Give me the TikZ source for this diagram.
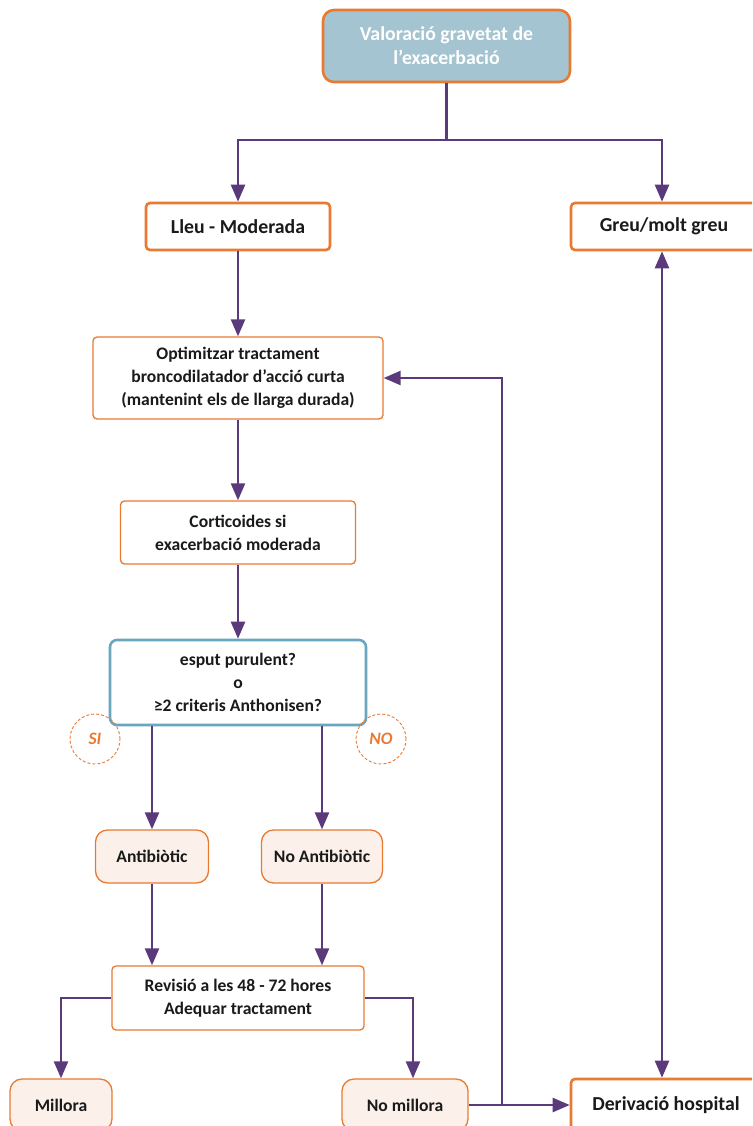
\documentclass[tikz,border=0pt]{standalone}
\usepackage{fontspec}
\setmainfont{Carlito}
\usepackage{tikz}
\usetikzlibrary{arrows.meta}
\definecolor{taronja}{RGB}{232,122,50}
\definecolor{blaufons}{RGB}{163,196,208}
\definecolor{blauvora}{RGB}{106,166,190}
\definecolor{preseg}{RGB}{251,240,234}
\definecolor{lila}{RGB}{90,58,122}
\definecolor{text}{RGB}{26,26,26}
\begin{document}
\begin{tikzpicture}[x=1pt,y=-1pt]
            \tikzstyle{gran}=[draw=taronja,line width=2.6pt,rounded corners=4pt,fill=white,text=text,
                font=\fontsize{19.8}{24}\selectfont\bfseries,align=center]
            \tikzstyle{caixa}=[draw=taronja,line width=1.3pt,rounded corners=4pt,fill=white,text=text,
                font=\fontsize{17.6}{22.8}\selectfont\bfseries,align=center]
            \tikzstyle{suau}=[caixa,fill=preseg,rounded corners=12pt]
            \tikzstyle{pregunta}=[caixa,draw=blauvora,line width=2.6pt,rounded corners=7pt]
            \tikzstyle{etiqueta}=[circle,draw=taronja,dash pattern=on 3pt off 2pt,line width=0.9pt,
                minimum size=50pt,inner sep=0pt,text=taronja,font=\fontsize{17.5}{20}\selectfont\bfseries\itshape]
            \tikzstyle{fletxa}=[draw=lila,line width=2.4pt,-{Triangle[width=14pt,length=17pt]}]
            \tikzstyle{linia}=[draw=lila,line width=2.4pt]
            \useasboundingbox (0,0) rectangle (752,1126);
            \clip (0,0) rectangle (752,1126);
            \node[gran,fill=blaufons,text=white,rounded corners=11pt,minimum width=247pt,minimum height=72pt] (valor) at (446.5,46)
                {Valoració gravetat de\\l’exacerbació};
            \node[gran,minimum width=184pt,minimum height=47pt] (lleu) at (238,226.5) {Lleu - Moderada};
            \node[gran,minimum width=186pt,minimum height=47pt] (greu) at (664,226.5) {Greu/molt greu};
            \node[caixa,minimum width=290pt,minimum height=82pt] (optim) at (238,378)
                {Optimitzar tractament\\broncodilatador d’acció curta\\(mantenint els de llarga durada)};
            \node[caixa,minimum width=235pt,minimum height=63pt] (cortic) at (238,532.5)
                {Corticoides si\\exacerbació moderada};
            \node[pregunta,minimum width=256pt,minimum height=85pt] (decis) at (238,682.5)
                {esput purulent?\\o\\≥2 criteris Anthonisen?};
            \node[etiqueta] (si) at (95,739) {SI};
            \node[etiqueta] (no) at (381,739) {NO};
            \node[suau,minimum width=113pt,minimum height=53pt] (anti) at (152,856.5) {Antibiòtic};
            \node[suau,minimum width=121pt,minimum height=53pt] (noanti) at (322,856.5) {No Antibiòtic};
            \node[caixa,minimum width=252pt,minimum height=64pt] (revis) at (238,998)
                {Revisió a les 48 - 72 hores\\Adequar tractament};
            \node[suau,minimum width=102pt,minimum height=52pt] (millora) at (61,1105) {Millora};
            \node[suau,minimum width=126pt,minimum height=52pt] (nomill) at (405,1105) {No millora};
            \node[gran,minimum width=190pt,minimum height=52pt] (deriv) at (666,1105) {Derivació hospital};
            \coordinate (partir) at (446.5,140);
            \coordinate (retorn) at (502,1104);
            \draw[linia] (valor.south) -- (partir);
            \draw[fletxa] (partir) -| (lleu.north);
            \draw[fletxa] (partir) -| ([xshift=-2pt]greu.north);
            \draw[fletxa] (lleu) -- (optim);
            \draw[fletxa] (optim) -- (cortic);
            \draw[fletxa] (cortic) -- (decis);
            \draw[fletxa] (decis.south -| anti.north) -- (anti.north);
            \draw[fletxa] (decis.south -| noanti.north) -- (noanti.north);
            \draw[fletxa] (anti.south) -- (anti.south |- revis.north);
            \draw[fletxa] (noanti.south) -- (noanti.south |- revis.north);
            \draw[fletxa] (revis.west) -| (millora.north);
            \draw[fletxa] (revis.east) -| ([xshift=8pt]nomill.north);
            \draw[fletxa] (nomill.east) -- (deriv.west |- nomill.east);
            \draw[fletxa] (retorn) |- (optim.east);
            \draw[fletxa,{Triangle[width=14pt,length=17pt]}-{Triangle[width=14pt,length=17pt]}]
                ([xshift=-2pt]greu.south) -- ([xshift=-2pt]greu.south |- deriv.north);
\end{tikzpicture}
\end{document}
